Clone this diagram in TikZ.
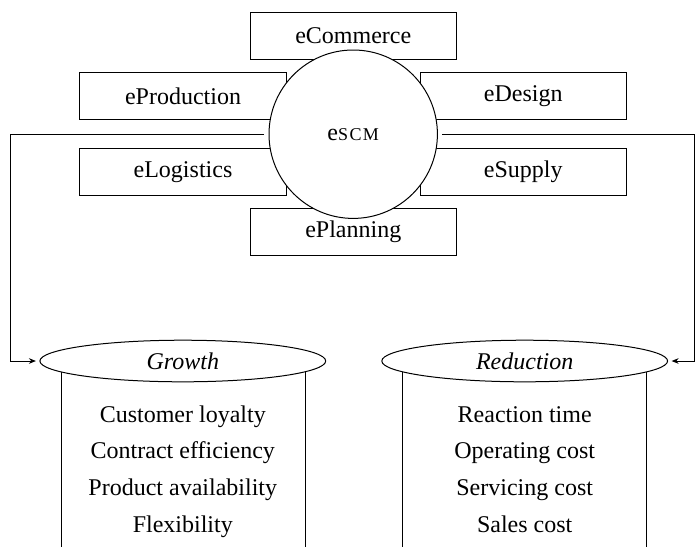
\documentclass[tikz,border=0pt]{standalone}
\usepackage{fontspec}
\setmainfont{Liberation Serif}
\usetikzlibrary{shapes.geometric}
\usetikzlibrary{arrows.meta}

\newcommand{\labelfont}{\fontsize{12}{14}\selectfont}

\tikzset{
  module/.style={draw,fill=white,rectangle,minimum width=103.3pt,minimum height=23.5pt,inner sep=0pt},
  hub/.style={draw,fill=white,circle,minimum size=84.2pt,inner sep=0pt,outer sep=2.4pt},
  goal/.style={draw,fill=white,ellipse,minimum width=142.9pt,minimum height=20.8pt,inner sep=0pt,outer sep=2pt,font=\labelfont\itshape},
  item/.style={anchor=base},
  feed/.style={-{Stealth[length=3.5pt,width=2.8pt]}},
}

\begin{document}
\begin{tikzpicture}[x=0.5pt,y=-0.5pt,line width=0.5pt,font=\labelfont]
    \useasboundingbox (0,0) rectangle (695,547);

    % e-modules round the hub
    \node[module] (commerce)   at (353.3,35.8)  {eCommerce};
    \node[module] (production) at (183,95.8)    {eProduction};
    \node[module] (design)     at (523.3,95.8)  {eDesign};
    \node[module] (logistics)  at (183,171.7)   {eLogistics};
    \node[module] (supply)     at (523.3,171.7) {eSupply};
    \node[module] (planning)   at (353.3,232)   {ePlanning};

    \node[hub] (escm) at (353.2,134.2) {e{\fontsize{9}{10}\selectfont\addfontfeature{LetterSpace=8}SCM}};

    % cylinder walls
    \draw (61,361) -- (61,547);
    \draw (305,361) -- (305,547);
    \draw (402.5,361) -- (402.5,547);
    \draw (646.5,361) -- (646.5,547);

    \node[goal] (growth)    at (182.8,361) {Growth};
    \node[goal] (reduction) at (524.7,361) {Reduction};

    \node[item] (G1) at (182.8,422)   {Customer loyalty};
    \node[item] (G2) at (182.8,458.8) {Contract efficiency};
    \node[item] (G3) at (182.8,495.6) {Product availability};
    \node[item] (G4) at (182.8,532.4) {Flexibility};

    \node[item] (R1) at (524.7,422)   {Reaction time};
    \node[item] (R2) at (524.7,458.8) {Operating cost};
    \node[item] (R3) at (524.7,495.6) {Servicing cost};
    \node[item] (R4) at (524.7,532.4) {Sales cost};

    % feeds from the hub
    \coordinate (L) at (10,134.2);
    \coordinate (R) at (694.5,134.2);
    \draw[feed] (escm.west) -- (L) |- (growth.west);
    \draw[feed] (escm.east) -- (R) |- (reduction.east);
\end{tikzpicture}
\end{document}
